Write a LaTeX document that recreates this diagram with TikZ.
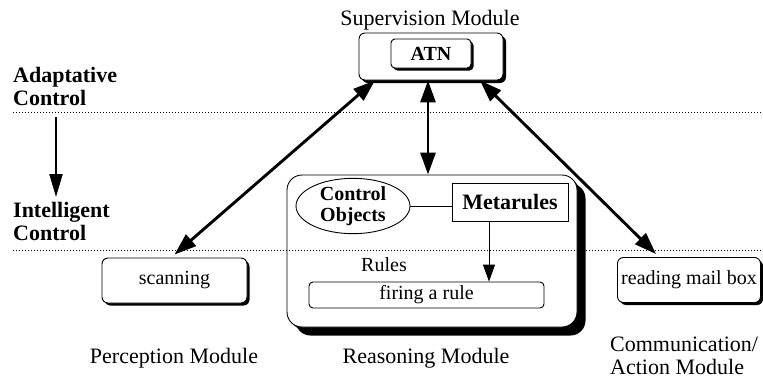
\documentclass[tikz,border=0pt]{standalone}
\usepackage{fontspec}
\setmainfont{Liberation Serif}
\usetikzlibrary{arrows.meta,shadows,calc,shapes.geometric}
\begin{document}
\begin{tikzpicture}[x=1pt,y=-1pt,
  lbl/.style={font=\fontsize{22}{23}\selectfont, inner sep=0pt, align=left},
  boldlbl/.style={font=\fontsize{22}{23}\selectfont\bfseries, inner sep=0pt, align=left},
  txt/.style={font=\fontsize{20}{22}\selectfont},
  rbox/.style={draw, fill=white, rounded corners=6pt, line width=0.9pt, inner sep=0pt,
    drop shadow={shadow xshift=2.5pt, shadow yshift=-2.5pt, fill=black, opacity=1}},
  bigarrow/.style={line width=2.9pt, {Triangle[length=22pt,width=15pt]}-{Triangle[length=22pt,width=15pt]}},
  sep/.style={line width=0.8pt, dash pattern=on 1.2pt off 1.8pt}
]
\useasboundingbox (0,0) rectangle (763,378);

% layer boundaries
\draw[sep] (13,112) -- (763,112);

% supervision module
\node[lbl, anchor=base] (suplbl) at (430,25) {Supervision Module};
\node[rbox, minimum width=144pt, minimum height=47pt,
  drop shadow={shadow xshift=3pt, shadow yshift=-3pt, fill=black, opacity=1}] (sup) at (431,56.5) {};
\node[rbox, rounded corners=4pt, minimum width=80pt, minimum height=29pt, txt, font=\fontsize{20}{22}\selectfont\bfseries,
  drop shadow={shadow xshift=1.2pt, shadow yshift=-1.2pt, fill=black, opacity=1}] (atn) at (431,53.5) {ATN};

% control level labels
\node[boldlbl, anchor=base west] (adapt) at (13,82) {Adaptative};
\node[boldlbl, anchor=base west] (adapt2) at (13,105) {Control};
\node[boldlbl, anchor=base west] (intel) at (13,217) {Intelligent};
\node[boldlbl, anchor=base west] (intel2) at (13,240) {Control};
\coordinate (lvtop) at (56,117);
\coordinate (lvbot) at (56,197);
\draw[line width=2.2pt, -{Triangle[length=23pt,width=13pt]}] (lvtop) -- (lvbot);

% reasoning module
\node[rbox, rounded corners=15pt, minimum width=290pt, minimum height=152pt,
  drop shadow={shadow xshift=8.5pt, shadow yshift=-8.5pt, fill=black, opacity=1}] (reason) at (432,251) {};
\node[draw, ellipse, line width=0.9pt, minimum width=114pt, minimum height=45pt, inner sep=0pt,
  align=center, font=\fontsize{20}{21}\selectfont\bfseries] (ctrl) at (353,206) {Control\\Objects};
\node[draw, line width=0.9pt, minimum width=116pt, minimum height=38pt, inner sep=0pt,
  font=\fontsize{22}{24}\selectfont\bfseries] (meta) at (510,202) {Metarules};
\draw[line width=0.9pt] (ctrl.east) -- (meta.west |- ctrl.east);
\node[draw, rounded corners=4pt, line width=0.9pt, minimum width=235pt, minimum height=26pt, inner sep=0pt, txt] (fire) at (426.5,295) {firing a rule};
\node[txt, inner sep=0pt, anchor=base] (rules) at (384,271) {Rules};
\draw[line width=1pt, -{Triangle[length=17pt,width=12pt]}] ([xshift=-21pt]meta.south) -- ([xshift=-21pt]meta.south |- fire.north);

% lower boundary
\draw[sep] (13,250) -- (763,250);

% perception and communication modules
\node[rbox, minimum width=145pt, minimum height=45pt, txt] (scan) at (174.5,280.5) {scanning};
\node[rbox, minimum width=143pt, minimum height=45pt, txt] (read) at (689,280) {reading mail box};

% links to supervision
\draw[bigarrow] ([xshift=-56pt]sup.south) -- ([yshift=3pt]scan.north);
\draw[bigarrow] ([xshift=-3pt]sup.south) -- ([xshift=-4pt]reason.north);
\draw[bigarrow] ([xshift=49pt]sup.south) -- ([xshift=39pt,yshift=3pt]read.north west);

% module names
\node[lbl, anchor=base] (perc) at (174,363) {Perception Module};
\node[lbl, anchor=base] (reas) at (426,363) {Reasoning Module};
\node[lbl, anchor=base west] (comm) at (610,351) {Communication/};
\node[lbl, anchor=base west] (comm2) at (610,374) {Action Module};
\end{tikzpicture}
\end{document}
